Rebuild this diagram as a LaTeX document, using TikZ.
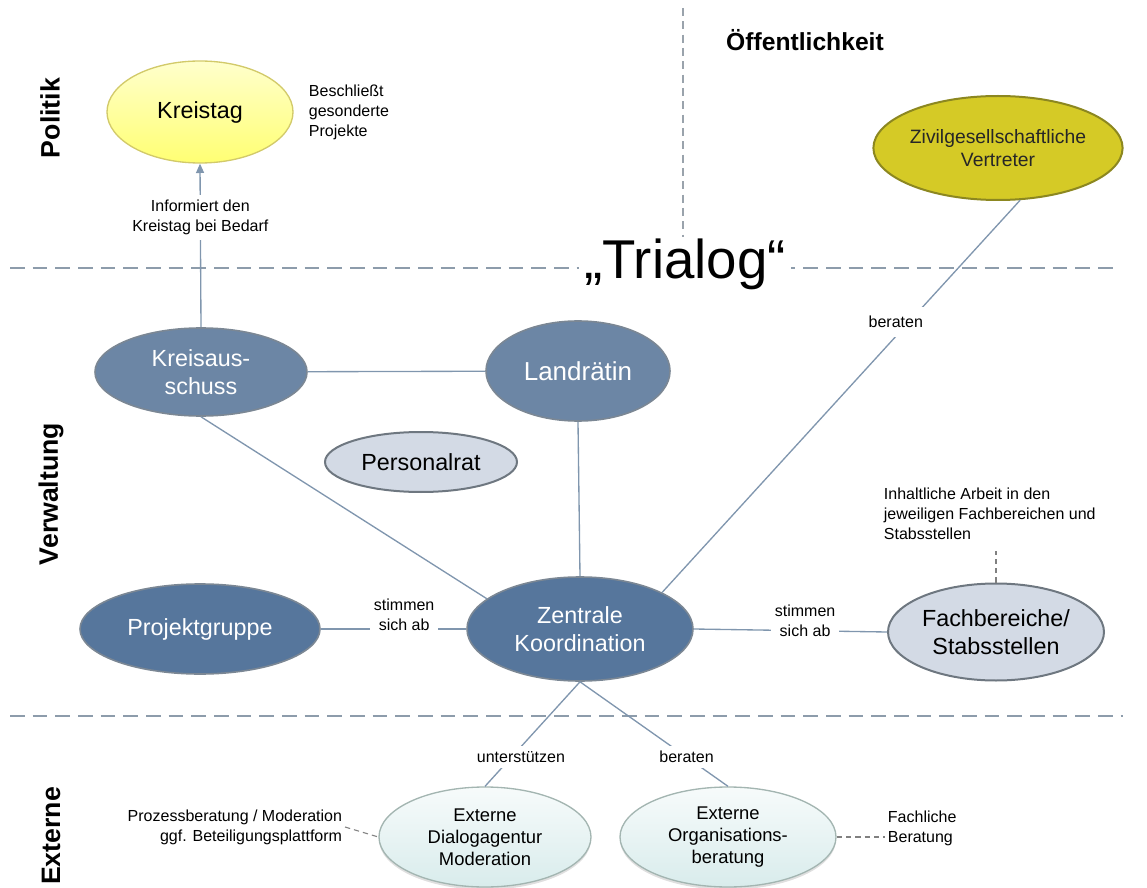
\documentclass[tikz,border=0pt]{standalone}
\usepackage{fontspec}
\setmainfont{Liberation Sans}
\usetikzlibrary{shapes.geometric,arrows.meta,shadows}
\definecolor{lineC}{HTML}{8096AE}
\definecolor{dashC}{HTML}{8D9CAB}
\definecolor{vdashC}{HTML}{9AA3AC}
\definecolor{darkA}{HTML}{6C86A5}
\definecolor{darkB}{HTML}{56769C}
\definecolor{darkBorder}{HTML}{7B8794}
\definecolor{lightFill}{HTML}{D3DAE5}
\definecolor{lightBorder}{HTML}{6E7780}
\definecolor{zivFill}{HTML}{D5CA26}
\definecolor{zivBorder}{HTML}{8C8720}
\definecolor{ktBorder}{HTML}{D2CA6A}
\definecolor{extBorder}{HTML}{A3B5B1}
\tikzset{
  esize/.style 2 args={ellipse, inner sep=0pt, minimum width=#1*0.75pt, minimum height=#2*0.75pt, align=center},
  bigtext/.style={font=\fontsize{17.5}{20.5}\selectfont},
  nodeA/.style={bigtext, fill=darkA, draw=darkBorder, line width=1.2pt, text=white},
  nodeB/.style={bigtext, fill=darkB, draw=darkBorder, line width=1.2pt, text=white},
  nodeL/.style={bigtext, fill=lightFill, draw=lightBorder, line width=1.5pt, text=black},
  nodeY/.style={bigtext, top color=yellow!20!white, bottom color=yellow!55!white, draw=ktBorder, line width=1pt, text=black},
  nodeZ/.style={font=\fontsize{14.5}{17}\selectfont, fill=zivFill, draw=zivBorder, line width=1.5pt, text=black!85},
  nodeE/.style={font=\fontsize{13.8}{16.5}\selectfont, top color=white!60!teal!8, bottom color=teal!15!white, draw=extBorder, line width=1pt, text=black,
     drop shadow={shadow xshift=0pt, shadow yshift=-2pt, opacity=0.25, fill=gray}},
  small/.style={font=\fontsize{12}{15}\selectfont, inner sep=2pt, text=black},
  lbl/.style={small, fill=white, align=center, inner xsep=3pt, inner ysep=4pt},
  conn/.style={draw=lineC, line width=1pt},
  divider/.style={draw=dashC, line width=1.3pt, dash pattern=on 11pt off 6pt},
  vdiv/.style={draw=vdashC, line width=0.9pt, dash pattern=on 6pt off 4pt},
  thindash/.style={draw=gray, line width=0.8pt, dash pattern=on 4pt off 3pt},
  title/.style={font=\bfseries\fontsize{20}{24}\selectfont, text=black},
  trialog/.style={font=\fontsize{41}{48}\selectfont, fill=white, inner xsep=4pt, inner ysep=1pt, text=black}
}
\begin{document}
\begin{tikzpicture}[x=0.75pt,y=-0.75pt]
\useasboundingbox (0,0) rectangle (1147,888);

% dividers
\draw[divider] (10,268) -- (1113,268);
\draw[divider] (10,716) -- (1123,716);
\draw[vdiv] (683,8) -- (683,245);

% section titles
\node[title, rotate=90] (tPol) at (50,118) {Politik};
\node[title, rotate=90] (tVer) at (51,494) {Verwaltung};
\node[title, rotate=90] (tExt) at (51,836) {Externe};
\node[font=\bfseries\fontsize{18.5}{22}\selectfont] (tOef) at (805,40) {Öffentlichkeit};
\node[trialog] (tri) at (685,264) {„Trialog“};

% nodes
\node[nodeY, esize={186}{102}] (kt) at (200,112) {Kreistag};
\node[nodeZ, esize={248}{104}] (zv) at (998,148) {Zivilgesellschaftliche\\Vertreter};
\node[nodeA, esize={212}{88}] (kas) at (201,372) {Kreisaus-\\schuss};
\node[nodeA, esize={184}{100}, font=\fontsize{19.5}{23}\selectfont] (lr) at (578,371) {Landrätin};
\node[nodeL, esize={192}{60}] (pr) at (421,462) {Personalrat};
\node[nodeB, esize={240}{90}] (pg) at (200,629) {Projektgruppe};
\node[nodeB, esize={226}{104}] (zk) at (580,629) {Zentrale\\Koordination};
\node[nodeL, esize={216}{97}] (fb) at (996,632) {Fachbereiche/\\Stabsstellen};
\node[nodeE, esize={212}{100}] (dl) at (485,837) {Externe\\Dialogagentur\\Moderation};
\node[nodeE, esize={216}{100}] (og) at (728,837) {Externe\\Organisations-\\beratung};

% side texts
\node[small, anchor=west, align=left] (besch) at (306,112) {Beschließt\\gesonderte\\Projekte};
\node[small, anchor=west, align=left] (inh) at (881,514) {Inhaltliche Arbeit in den\\jeweiligen Fachbereichen und\\Stabsstellen};
\node[small, anchor=east, align=right] (proz) at (345,827) {Prozessberatung / Moderation\\ggf. Beteiligungsplattform};
\node[small, anchor=west, align=left] (fach) at (885,828) {Fachliche\\Beratung};

% connectors
\draw[conn, -{Triangle[length=7pt,width=6pt]}] (kas.north) -- (kt.south)
  node[lbl, pos=0.67] {Informiert den\\Kreistag bei Bedarf};
\draw[conn] (kas) -- (lr);
\draw[conn] (kas.south) -- (zk.162);
\draw[conn] (lr.south) -- (zk.north);
\draw[conn] (zk.24) -- (zv.-67) node[lbl, pos=0.69, xshift=-10pt, inner ysep=7pt] {beraten};
\draw[conn] (pg.east) -- (zk.west) node[lbl, midway, xshift=8pt, yshift=11pt] {stimmen\\sich ab};
\draw[conn] (zk.east) -- (fb.west) node[lbl, midway, xshift=11pt, yshift=7.5pt] {stimmen\\sich ab};
\draw[conn] (zk.south) -- (dl.north) node[lbl, pos=0.72, xshift=7pt] {unterstützen};
\draw[conn] (zk.south) -- (og.north) node[lbl, pos=0.72] {beraten};

% dashed annotations
\draw[thindash, shorten >=6pt] (fb.north) -- (fb.north |- inh.south);
\draw[thindash] (proz.east) -- (dl.west);
\draw[thindash] (og.east) -- (og.east -| fach.west);
\end{tikzpicture}
\end{document}
